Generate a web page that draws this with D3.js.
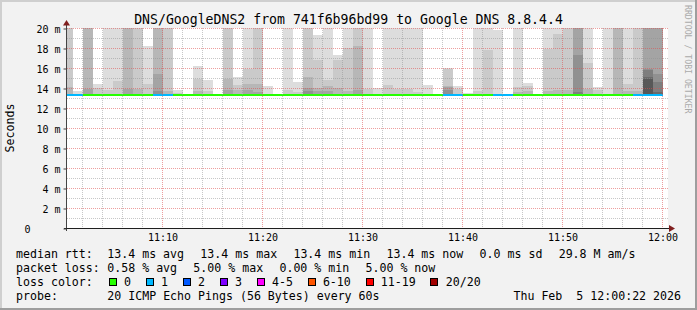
<!DOCTYPE html>
<html>
<head>
<meta charset="utf-8">
<script src="https://cdn.jsdelivr.net/npm/d3@7"></script>
<style>
  body { margin: 0; background: #f2f2f2; }
  svg { display: block; font-family: "DejaVu Sans Mono", monospace; }
</style>
</head>
<body>
<div id="chart"></div>
<script>
// ---- data ----
const title = 'DNS/GoogleDNS2 from 741f6b96bd99 to Google DNS 8.8.4.4';
const yLabel = 'Seconds';
const yTicks = [0, 2, 4, 6, 8, 10, 12, 14, 16, 18, 20];
const yTickLabels = ['0     ', '2 m', '4 m', '6 m', '8 m', '10 m', '12 m', '14 m', '16 m', '18 m', '20 m'];
const xTickLabels = ['11:10', '11:20', '11:30', '11:40', '11:50', '12:00'];

// median rtt per minute (ms), 11:00 .. 11:59
const medianRtt = [
  13.35, 13.35, 13.35, 13.35, 13.35, 13.35, 13.35, 13.35, 13.35, 13.35,
  13.35, 13.35, 13.35, 13.35, 13.35, 13.35, 13.35, 13.35, 13.35, 13.35,
  13.35, 13.35, 13.35, 13.35, 13.35, 13.35, 13.35, 13.35, 13.35, 13.35,
  13.35, 13.35, 13.35, 13.35, 13.35, 13.35, 13.35, 13.35, 13.35, 13.35,
  13.35, 13.35, 13.35, 13.35, 13.35, 13.35, 13.35, 13.35, 13.35, 13.35,
  13.35, 13.35, 13.35, 13.35, 13.35, 13.35, 13.35, 13.35, 13.35, 13.35
];
// lost pings per minute (of 20)
const lossCount = [
  1, 1, 0, 0, 0, 0, 0, 0, 0, 1,
  1, 0, 0, 0, 0, 0, 0, 0, 0, 0,
  0, 0, 0, 0, 0, 0, 0, 0, 0, 0,
  0, 0, 0, 0, 0, 0, 0, 0, 1, 1,
  0, 0, 0, 1, 1, 0, 0, 0, 0, 0,
  0, 0, 0, 0, 0, 0, 0, 1, 1, 1
];
// smoke: upper ends of the sorted pings (20th, 19th, 18th ...) per minute, ms
// (21 = off the top of the graph)
const smokeTops = [
  [21, 21, 14.2], [13.8], [21, 21, 21, 14.0], [14.5, 14.1], [21, 13.9],
  [21, 14.8], [21, 21, 21, 14.0], [21, 21, 14.0], [18.3, 14.5], [21, 21, 21, 15.5, 13.8],
  [21, 21, 13.8], [13.9, 13.6], [], [16.3, 15.0, 13.8], [14.9, 13.8],
  [], [21, 21, 15.0, 13.9], [15.2, 14.4, 13.9], [21, 16.0, 14.5, 13.9], [21, 21, 14.5, 13.7],
  [14.3], [], [21, 13.9], [14.7, 13.7], [21, 21, 15.2, 14.1, 13.8],
  [19.4, 16.9, 14.1, 13.8], [21, 14.9, 14.3, 13.8], [17.4, 16.9, 14.1], [21, 18.1, 13.8], [21, 21, 18.3, 13.9],
  [21, 14.0], [14.1], [21, 14.4], [21, 14.0], [21, 14.0],
  [21, 13.7], [14.4], [], [16.1, 16.0, 14.3, 14.2, 13.9], [14.3, 14.0],
  [13.6], [21, 13.8], [21, 17.9], [19.9], [],
  [21, 14.2, 13.7], [14.6, 14.3, 13.8], [], [21, 18.0, 13.8], [21, 19.5, 13.9],
  [21, 21, 13.9], [21, 21, 21, 21, 17.4, 13.7], [21, 16.6, 14.0], [14.2, 13.9], [21],
  [21, 21, 21], [21, 14.5, 13.8], [21, 21, 13.8], [21, 21, 21, 21, 16.0, 15.9, 15.2, 15.0], [21, 21, 21, 21, 15.5, 14.7, 13.7]
];

const statsRtt = [' 13.4 ms avg', ' 13.4 ms max', ' 13.4 ms min', ' 13.4 ms now', ' 0.0 ms sd', ' 29.8 M am/s'];
const statsLoss = [' 0.58 % avg', ' 5.00 % max', ' 0.00 % min', ' 5.00 % now'];
const lossLabels = ['0', '1', '2', '3', '4-5', '6-10', '11-19', '20/20'];
const lossColors = ['#26ff00', '#00b8ff', '#0059ff', '#7e00ff', '#ff00ff', '#ff5500', '#ff0000', '#a10000'];
const probeText = '20 ICMP Echo Pings (56 Bytes) every 60s';
const stampText = 'Thu Feb  5 12:00:22 2026';

// ---- styles ----
const smokeGreys = ['#dddddd', '#cacaca', '#b7b7b7', '#a4a4a4', '#919191', '#7e7e7e', '#6b6b6b', '#585858'];
const W = 697, H = 310;
const plotL = 67, plotR = 668, plotT = 28, plotB = 228;

const svg = d3.select('#chart').append('svg')
    .attr('width', W)
    .attr('height', H);

// background and 3d frame
svg.append('rect').attr('width', W).attr('height', H).attr('fill', '#f2f2f2');
svg.append('path').attr('d', 'M0,0H697V2H2V310H0Z').attr('fill', '#cfcfcf');
svg.append('path').attr('d', 'M697,0V310H0V308H695V0Z').attr('fill', '#9e9e9e');

// canvas
svg.append('rect')
    .attr('x', plotL).attr('y', plotT)
    .attr('width', plotR - plotL).attr('height', plotB - plotT)
    .attr('fill', '#ffffff');

svg.append('clipPath').attr('id', 'plotclip')
    .append('rect')
    .attr('x', plotL).attr('y', plotT)
    .attr('width', plotR - plotL).attr('height', plotB - plotT);

const t0 = new Date(2026, 1, 5, 11, 0, 0);
const x = d3.scaleTime()
    .domain([new Date(2026, 1, 5, 11, 0, 27), new Date(2026, 1, 5, 12, 0, 27)])
    .range([plotL + 0.5, plotL + 600.5]);
const y = d3.scaleLinear().domain([0, 20]).range([plotB + 0.5, plotT + 0.5]);

const colX0 = (i) => Math.max(plotL, x(d3.timeMinute.offset(t0, i)));
const colX1 = (i) => x(d3.timeMinute.offset(t0, i + 1));

const plot = svg.append('g').attr('clip-path', 'url(#plotclip)');

// smoke
const smoke = [];
smokeTops.forEach((tops, i) => tops.forEach((v, k) => smoke.push({i, k, v})));
smoke.sort((a, b) => a.k - b.k);
plot.selectAll('rect.smoke')
    .data(smoke)
    .join('rect')
    .attr('class', 'smoke')
    .attr('shape-rendering', 'crispEdges')
    .attr('x', (d) => colX0(d.i))
    .attr('width', (d) => colX1(d.i) - colX0(d.i))
    .attr('y', (d) => y(d.v))
    .attr('height', (d) => Math.max(0, y(medianRtt[d.i]) - y(d.v)))
    .attr('fill', (d) => smokeGreys[d.k]);

// grid
const grid = svg.append('g').attr('fill', 'none').attr('stroke-dasharray', '1,1');
const minorGrey = 'rgba(143,143,143,0.5)';
const majorRed = 'rgba(222,79,79,0.55)';
const yMinor = d3.range(1, 20, 2);
const yMajor = yTicks.filter((v) => v > 0);
grid.selectAll('line.hmin').data(yMinor).join('line')
    .attr('x1', plotL).attr('x2', plotR)
    .attr('y1', (d) => y(d)).attr('y2', (d) => y(d))
    .attr('stroke', minorGrey);
const tEnd = new Date(2026, 1, 5, 12, 0, 27);
const vMinor = d3.timeMinute.every(2).range(new Date(2026, 1, 5, 11, 1, 0), tEnd)
    .filter((d) => d.getMinutes() % 10 !== 0);
const vMajor = d3.timeMinute.every(10).range(new Date(2026, 1, 5, 11, 1, 0), tEnd);
grid.selectAll('line.vmin').data(vMinor).join('line')
    .attr('x1', (d) => x(d) - 0.5).attr('x2', (d) => x(d) - 0.5)
    .attr('y1', plotT).attr('y2', plotB)
    .attr('stroke', minorGrey);
grid.selectAll('line.hmaj').data(yMajor).join('line')
    .attr('x1', plotL).attr('x2', plotR)
    .attr('y1', (d) => y(d)).attr('y2', (d) => y(d))
    .attr('stroke', majorRed);
grid.selectAll('line.vmaj').data(vMajor).join('line')
    .attr('x1', (d) => x(d) - 0.5).attr('x2', (d) => x(d) - 0.5)
    .attr('y1', plotT).attr('y2', plotB)
    .attr('stroke', majorRed);

// median line coloured by loss
const lossColor = (n) => {
  if (n <= 3) return lossColors[n];
  if (n <= 5) return lossColors[4];
  if (n <= 10) return lossColors[5];
  if (n <= 19) return lossColors[6];
  return lossColors[7];
};
plot.selectAll('line.median')
    .data(medianRtt)
    .join('line')
    .attr('class', 'median')
    .attr('x1', (d, i) => colX0(i))
    .attr('x2', (d, i) => colX1(i))
    .attr('y1', (d) => y(d))
    .attr('y2', (d) => y(d))
    .attr('stroke', (d, i) => lossColor(lossCount[i]))
    .attr('stroke-width', 2)
    .attr('shape-rendering', 'crispEdges');

// axes lines and arrows
svg.append('line')
    .attr('x1', plotL - 0.5).attr('x2', plotL - 0.5)
    .attr('y1', plotB + 3).attr('y2', plotT - 4)
    .attr('stroke', '#444');
svg.append('line')
    .attr('x1', plotL - 3).attr('x2', plotR + 1)
    .attr('y1', plotB + 0.5).attr('y2', plotB + 0.5)
    .attr('stroke', '#1f1f1f');
svg.append('path')
    .attr('d', `M${plotL - 4},${plotT - 2.5}L${plotL + 3},${plotT - 2.5}L${plotL - 0.5},${plotT - 8}Z`)
    .attr('fill', '#801f1f');
svg.append('path')
    .attr('d', `M${plotR + 1},${plotB - 3}L${plotR + 1},${plotB + 4}L${plotR + 7},${plotB + 0.5}Z`)
    .attr('fill', '#801f1f');

// axis labels through d3 axes
const xAxis = d3.axisBottom(x)
    .tickValues(vMajor)
    .tickFormat((d, i) => xTickLabels[i])
    .tickSize(0)
    .tickPadding(5.5);
const gx = svg.append('g').attr('transform', `translate(0,${plotB + 0.5})`).call(xAxis);
gx.select('.domain').remove();
gx.selectAll('text')
    .attr('x', -0.5)
    .style('font-family', '"DejaVu Sans Mono", monospace')
    .style('font-size', '10px')
    .attr('fill', '#000');

const yAxis = d3.axisLeft(y)
    .tickValues(yTicks)
    .tickFormat((d, i) => yTickLabels[i])
    .tickSize(3)
    .tickPadding(3);
const gy = svg.append('g').attr('transform', `translate(${plotL - 0.5},0)`).call(yAxis);
gy.select('.domain').remove();
gy.selectAll('line').attr('stroke', '#444');
gy.selectAll('text')
    .attr('dy', '0.4em')
    .attr('xml:space', 'preserve')
    .style('white-space', 'pre')
    .style('font-family', '"DejaVu Sans Mono", monospace')
    .style('font-size', '10px')
    .attr('fill', '#000');

// title, unit label, watermark
svg.append('text')
    .attr('x', W / 2).attr('y', 23.5)
    .attr('text-anchor', 'middle')
    .style('font-size', '13.2px')
    .text(title);
svg.append('text')
    .attr('transform', 'translate(14,128) rotate(-90)')
    .attr('text-anchor', 'middle')
    .style('font-size', '11.6px')
    .text(yLabel);
svg.append('text')
    .attr('transform', 'translate(685,5) rotate(90)')
    .style('font-size', '8.2px')
    .attr('fill', '#aaaaaa')
    .text('RRDTOOL / TOBI OETIKER');

// legend
const lf = '11.6px';
const labelX = 16;
const valueX = 100.3;
const gap = 9.3;
function legendRow(yb, label, items) {
  svg.append('text').attr('x', labelX).attr('y', yb).style('font-size', lf).text(label);
  let cx = valueX;
  items.forEach((s) => {
    const t = svg.append('text')
        .attr('x', cx).attr('y', yb)
        .attr('xml:space', 'preserve')
        .style('white-space', 'pre')
        .style('font-size', lf)
        .text(s);
    cx += t.node().getComputedTextLength() + gap;
  });
}
legendRow(258, 'median rtt:', statsRtt);
legendRow(272, 'packet loss:', statsLoss);

svg.append('text').attr('x', labelX).attr('y', 286).style('font-size', lf).text('loss color:');
let bx = 108.7;
lossLabels.forEach((lab, i) => {
  svg.append('rect')
      .attr('x', Math.round(bx) + 0.5).attr('y', 278.5)
      .attr('width', 7).attr('height', 7)
      .attr('fill', lossColors[i])
      .attr('stroke', '#000');
  const t = svg.append('text')
      .attr('x', bx + 15.3).attr('y', 286)
      .style('font-size', lf)
      .text(lab);
  bx += 15.3 + t.node().getComputedTextLength() + 14.7;
});

svg.append('text').attr('x', labelX).attr('y', 300).style('font-size', lf).text('probe:');
svg.append('text').attr('x', valueX + 7).attr('y', 300).style('font-size', lf).text(probeText);
svg.append('text')
    .attr('x', 681).attr('y', 300)
    .attr('text-anchor', 'end')
    .attr('xml:space', 'preserve')
    .style('white-space', 'pre')
    .style('font-size', lf)
    .text(stampText);
</script>
</body>
</html>
